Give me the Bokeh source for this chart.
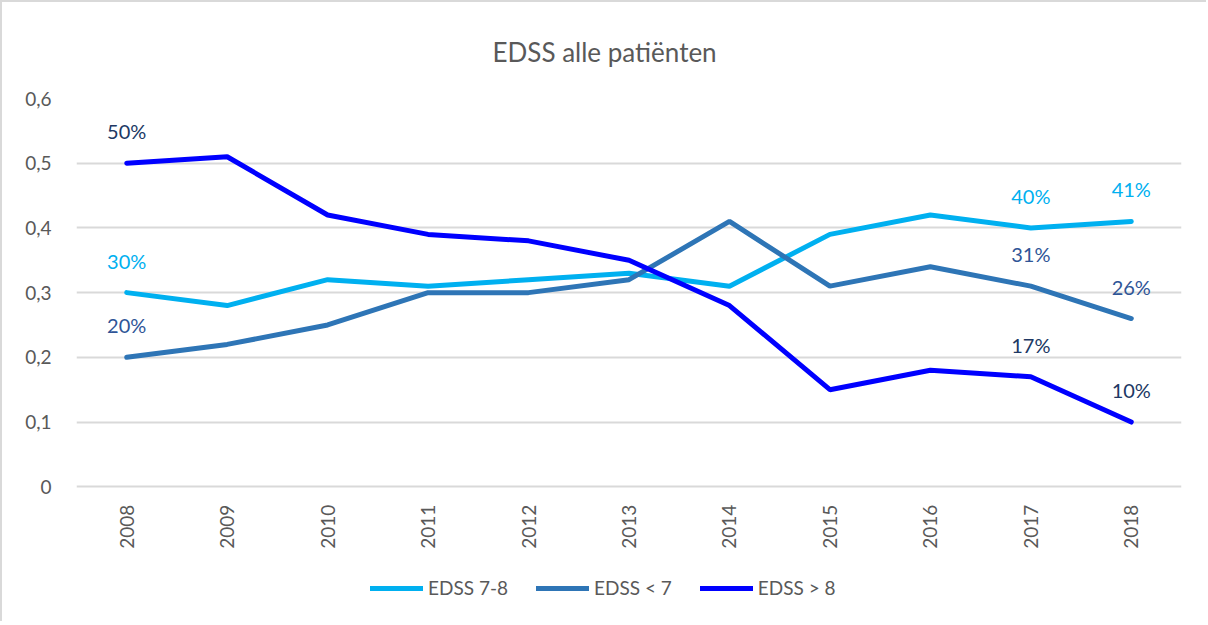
import math
from bokeh.plotting import figure
from bokeh.models import (ColumnDataSource, Range1d, FixedTicker, Legend, LegendItem)
from bokeh.core.properties import value
from bokeh.embed import file_html
from bokeh.resources import INLINE

# ---- data ----
years = [2008, 2009, 2010, 2011, 2012, 2013, 2014, 2015, 2016, 2017, 2018]
edss_7_8 = [0.30, 0.28, 0.32, 0.31, 0.32, 0.33, 0.31, 0.39, 0.42, 0.40, 0.41]
edss_lt7 = [0.20, 0.22, 0.25, 0.30, 0.30, 0.32, 0.41, 0.31, 0.34, 0.31, 0.26]
edss_gt8 = [0.50, 0.51, 0.42, 0.39, 0.38, 0.35, 0.28, 0.15, 0.18, 0.17, 0.10]
series_names = ["EDSS 7-8", "EDSS < 7", "EDSS > 8"]
labelled_years = [2008, 2017, 2018]
y_ticks = [0, 0.1, 0.2, 0.3, 0.4, 0.5, 0.6]
y_tick_labels = ["0", "0,1", "0,2", "0,3", "0,4", "0,5", "0,6"]
title_text = "EDSS alle patiënten"

FONT = "Lato"
GREY = "#595959"
line_colors = ["#00B0F0", "#2E75B6", "#0000FF"]
label_colors = ["#00B0F0", "#2F5597", "#203864"]

# layout (pixels): plot area from y=0 line to 0.6 line is 389px; the frame
# extends further down to hold the category labels and legend.
FIG_H = 621
TOP = 95
AREA_PX = 389
frame_px = FIG_H - TOP
y_lo = 0.6 - 0.6 * frame_px / AREA_PX

p = figure(width=1206, height=FIG_H,
           x_range=Range1d(2007.5, 2018.5), y_range=Range1d(y_lo, 0.6),
           output_backend="svg", toolbar_location=None,
           min_border_left=74, min_border_right=27,
           min_border_top=TOP, min_border_bottom=0)
p.styles = {"border-top": "2px solid #D9D9D9", "border-left": "2px solid #D9D9D9"}
p.outline_line_color = None
p.background_fill_color = "white"
p.border_fill_color = "white"

p.title.text = title_text
p.title.align = "left"
p.title.offset = 416
p.title.text_font = FONT
p.title.text_font_size = "26px"
p.title.text_font_style = "normal"
p.title.text_color = GREY
p.title.standoff = 62

# axes
p.xaxis.fixed_location = 0
p.xaxis.ticker = FixedTicker(ticks=years)
p.xaxis.major_label_orientation = math.pi / 2
p.xaxis.major_label_standoff = 18
p.yaxis.ticker = FixedTicker(ticks=y_ticks)
p.yaxis.major_label_overrides = {t: l for t, l in zip(y_ticks, y_tick_labels)}
p.yaxis.major_label_standoff = 25
for ax in (p.xaxis, p.yaxis):
    ax.axis_line_color = None
    ax.major_tick_line_color = None
    ax.minor_tick_line_color = None
    ax.major_tick_out = 0
    ax.major_tick_in = 0
    ax.minor_tick_out = 0
    ax.minor_tick_in = 0
    ax.major_label_text_font = FONT
    ax.major_label_text_font_size = "19px"
    ax.major_label_text_color = GREY

p.xgrid.grid_line_color = None
p.ygrid.ticker = FixedTicker(ticks=y_ticks)
p.ygrid.grid_line_color = "#D9D9D9"
p.ygrid.grid_line_width = 2

all_series = [edss_7_8, edss_lt7, edss_gt8]
items = []
for name, vals, lc, tc in zip(series_names, all_series, line_colors, label_colors):
    src = ColumnDataSource(dict(x=years, y=vals))
    r = p.line("x", "y", source=src, line_color=lc, line_width=5, line_cap="round")
    items.append(LegendItem(label=name, renderers=[r]))
    lx = [y for y in years if y in labelled_years]
    ly = [v for y, v in zip(years, vals) if y in labelled_years]
    lt = [f"{round(v * 100)}%" for v in ly]
    lsrc = ColumnDataSource(dict(x=lx, y=ly, t=lt))
    p.text("x", "y", text="t", source=lsrc, text_color=tc,
           text_font=value(FONT), text_font_size="20px",
           text_align="center", text_baseline="middle", y_offset=-32)

legend = Legend(items=items, orientation="horizontal",
                location=(294, 24),
                label_text_font=FONT, label_text_font_size="19px",
                label_text_color=GREY, glyph_width=53, glyph_height=20,
                label_height=20, label_standoff=5, spacing=28,
                padding=0, margin=0, border_line_color=None,
                background_fill_alpha=0)
p.add_layout(legend, "center")

open("out.html", "w").write(file_html(p, INLINE))
